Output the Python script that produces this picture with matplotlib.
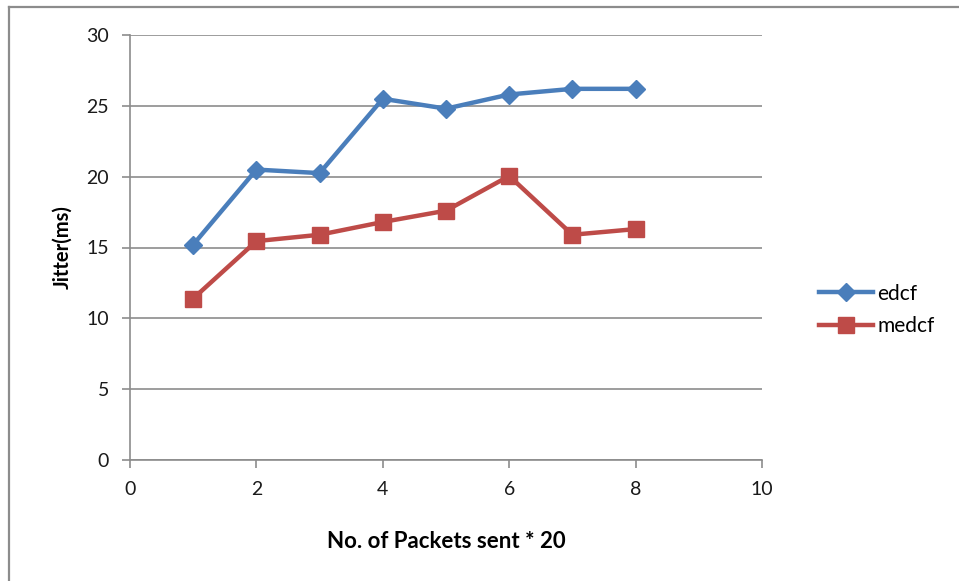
import matplotlib
matplotlib.use('Agg')
import matplotlib.pyplot as plt
from matplotlib.lines import Line2D

plt.rcParams['font.family'] = ['Lato', 'DejaVu Sans']

packets = [1, 2, 3, 4, 5, 6, 7, 8]
edcf = [15.2, 20.5, 20.25, 25.5, 24.8, 25.8, 26.2, 26.2]
medcf = [11.4, 15.45, 15.9, 16.8, 17.6, 20.05, 15.9, 16.3]

fig = plt.figure(figsize=(9.59, 5.81), dpi=100)
# chart-area border (only top and left edges show)
fig.lines.append(Line2D([8.5 / 959, 1.0], [1 - 7 / 581, 1 - 7 / 581], transform=fig.transFigure,
                        color='#8c8c8c', linewidth=1.6))
fig.lines.append(Line2D([8.5 / 959, 8.5 / 959], [0.0, 1 - 7 / 581], transform=fig.transFigure,
                        color='#8c8c8c', linewidth=1.6))

ax = fig.add_axes([130 / 959, 121 / 581, 632 / 959, 425 / 581])

blue = '#4a7ebb'
red = '#be4b48'
ax.plot(packets, edcf, color=blue, linewidth=3.2, marker='D', markersize=9,
        markerfacecolor=blue, markeredgecolor=blue, label='edcf')
ax.plot(packets, medcf, color=red, linewidth=3.2, marker='s', markersize=11,
        markerfacecolor=red, markeredgecolor=red, label='medcf')

ax.set_xlim(0, 10)
ax.set_ylim(0, 30)
ax.set_xticks(range(0, 11, 2))
ax.set_yticks(range(0, 31, 5))
ax.yaxis.grid(True, color='#8c8c8c', linewidth=1.2)
ax.set_axisbelow(True)

for s in ['top', 'right']:
    ax.spines[s].set_visible(False)
for s in ['left', 'bottom']:
    ax.spines[s].set_color('#8c8c8c')
    ax.spines[s].set_linewidth(1.2)
ax.tick_params(axis='both', direction='out', length=6, width=1.2, color='#8c8c8c',
               labelsize=14, colors='#8c8c8c', labelcolor='#1a1a1a')
ax.tick_params(axis='y', pad=9)
ax.tick_params(axis='x', pad=9)

ax.set_xlabel('No. of Packets sent * 20', fontsize=16, fontweight='bold', labelpad=24)
ax.set_ylabel('Jitter(ms)', fontsize=14.5, fontweight='bold', labelpad=10)

fig.legend(loc='center left', bbox_to_anchor=(800 / 959, 1 - 310 / 581), frameon=False,
           fontsize=15, handlelength=2.6, handletextpad=0.2, labelspacing=0.6)

fig.savefig('out.png', dpi=100)
